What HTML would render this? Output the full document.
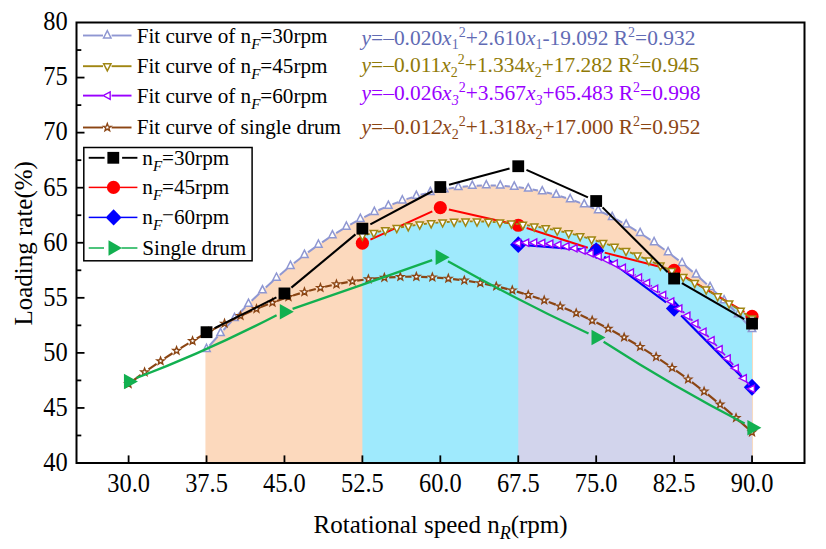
<!DOCTYPE html>
<html><head><meta charset="utf-8"><title>chart</title>
<style>
html,body{margin:0;padding:0;background:#fff;}
body{width:826px;height:549px;overflow:hidden;}
svg{display:block;}
text{font-family:"Liberation Serif",serif;}
.i{font-style:italic;}
</style></head><body>
<svg width="826" height="549" viewBox="0 0 826 549">
<rect width="826" height="549" fill="#fff"/>
<path d="M205.43,463.00 L205.43,349.05 L206.53,349.05 L213.44,341.12 L220.34,333.38 L227.25,325.84 L234.15,318.50 L241.06,311.36 L247.96,304.41 L254.87,297.66 L261.77,291.11 L268.68,284.75 L275.58,278.60 L282.49,272.63 L289.39,266.87 L296.30,261.30 L303.20,255.93 L310.11,250.75 L317.01,245.78 L323.92,241.00 L330.82,236.41 L337.73,232.02 L344.63,227.83 L351.54,223.84 L358.44,220.05 L365.35,216.45 L372.25,213.04 L379.16,209.84 L386.06,206.83 L392.97,204.02 L399.88,201.41 L406.78,198.99 L413.69,196.77 L420.59,194.74 L427.50,192.92 L434.40,191.29 L441.31,189.85 L448.21,188.62 L455.12,187.58 L462.02,186.74 L468.93,186.09 L475.83,185.64 L482.74,185.39 L489.64,185.34 L496.55,185.48 L503.45,185.82 L510.36,186.36 L517.26,187.09 L524.17,188.02 L531.07,189.15 L537.98,190.47 L544.88,191.99 L551.79,193.71 L558.69,195.63 L565.60,197.74 L572.51,200.05 L579.41,202.55 L586.32,205.26 L593.22,208.16 L600.13,211.25 L607.03,214.55 L613.94,218.04 L620.84,221.72 L627.75,225.61 L634.65,229.69 L641.56,233.97 L648.46,238.44 L655.37,243.11 L662.27,247.98 L669.18,253.05 L676.08,258.31 L682.99,263.77 L689.89,269.43 L696.80,275.28 L703.70,281.33 L710.61,287.58 L717.51,294.02 L724.42,300.67 L731.32,307.50 L738.23,314.54 L745.13,321.77 L752.04,329.20 L753.04,329.20 L753.04,463.00 Z" fill="#fcd9bd"/>
<path d="M362.39,463.00 L362.39,235.66 L362.39,235.66 L367.32,234.38 L372.25,233.16 L377.19,232.00 L382.12,230.90 L387.05,229.86 L391.98,228.88 L396.92,227.96 L401.85,227.09 L406.78,226.29 L411.71,225.55 L416.65,224.87 L421.58,224.24 L426.51,223.68 L431.44,223.18 L436.37,222.73 L441.31,222.35 L446.24,222.02 L451.17,221.76 L456.10,221.55 L461.04,221.41 L465.97,221.32 L470.90,221.30 L475.83,221.33 L480.76,221.42 L485.70,221.57 L490.63,221.79 L495.56,222.06 L500.49,222.39 L505.43,222.78 L510.36,223.23 L515.29,223.75 L520.22,224.32 L525.16,224.95 L530.09,225.64 L535.02,226.39 L539.95,227.20 L544.88,228.06 L549.82,228.99 L554.75,229.98 L559.68,231.03 L564.61,232.14 L569.55,233.31 L574.48,234.53 L579.41,235.82 L584.34,237.17 L589.27,238.57 L594.21,240.04 L599.14,241.57 L604.07,243.15 L609.00,244.80 L613.94,246.50 L618.87,248.27 L623.80,250.09 L628.73,251.97 L633.67,253.92 L638.60,255.92 L643.53,257.98 L648.46,260.11 L653.39,262.29 L658.33,264.53 L663.26,266.83 L668.19,269.19 L673.12,271.61 L678.06,274.10 L682.99,276.64 L687.92,279.24 L692.85,281.90 L697.78,284.62 L702.72,287.40 L707.65,290.23 L712.58,293.13 L717.51,296.09 L722.45,299.11 L727.38,302.19 L732.31,305.32 L737.24,308.52 L742.18,311.78 L747.11,315.10 L752.04,318.47 L752.04,318.47 L752.04,463.00 Z" fill="#9feafd"/>
<path d="M518.25,463.00 L518.25,243.11 L518.25,243.11 L521.21,242.90 L524.17,242.75 L527.13,242.65 L530.09,242.61 L533.05,242.62 L536.01,242.68 L538.97,242.79 L541.92,242.95 L544.88,243.17 L547.84,243.44 L550.80,243.76 L553.76,244.13 L556.72,244.56 L559.68,245.04 L562.64,245.57 L565.60,246.15 L568.56,246.79 L571.52,247.48 L574.48,248.22 L577.44,249.02 L580.40,249.86 L583.36,250.76 L586.32,251.71 L589.27,252.72 L592.23,253.77 L595.19,254.88 L598.15,256.04 L601.11,257.26 L604.07,258.52 L607.03,259.84 L609.99,261.21 L612.95,262.64 L615.91,264.12 L618.87,265.64 L621.83,267.23 L624.79,268.86 L627.75,270.55 L630.71,272.28 L633.67,274.08 L636.62,275.92 L639.58,277.82 L642.54,279.76 L645.50,281.77 L648.46,283.82 L651.42,285.93 L654.38,288.08 L657.34,290.29 L660.30,292.56 L663.26,294.87 L666.22,297.24 L669.18,299.66 L672.14,302.14 L675.10,304.66 L678.06,307.24 L681.02,309.87 L683.97,312.56 L686.93,315.29 L689.89,318.08 L692.85,320.92 L695.81,323.82 L698.77,326.76 L701.73,329.76 L704.69,332.81 L707.65,335.91 L710.61,339.07 L713.57,342.28 L716.53,345.54 L719.49,348.85 L722.45,352.22 L725.41,355.64 L728.37,359.11 L731.32,362.63 L734.28,366.21 L737.24,369.83 L740.20,373.52 L743.16,377.25 L746.12,381.03 L749.08,384.87 L752.04,388.76 L752.04,388.76 L752.04,463.00 Z" fill="#d2d4ec"/>
<line x1="209.44" y1="345.75" x2="217.61" y2="336.49" stroke="#8f97d2" stroke-width="2.0"/>
<line x1="223.51" y1="329.96" x2="231.51" y2="321.36" stroke="#8f97d2" stroke-width="2.0"/>
<line x1="237.59" y1="314.99" x2="245.41" y2="307.03" stroke="#8f97d2" stroke-width="2.0"/>
<line x1="251.67" y1="300.84" x2="259.31" y2="293.50" stroke="#8f97d2" stroke-width="2.0"/>
<line x1="265.75" y1="287.50" x2="273.20" y2="280.77" stroke="#8f97d2" stroke-width="2.0"/>
<line x1="279.83" y1="274.98" x2="287.09" y2="268.84" stroke="#8f97d2" stroke-width="2.0"/>
<line x1="293.91" y1="263.28" x2="300.99" y2="257.71" stroke="#8f97d2" stroke-width="2.0"/>
<line x1="308.00" y1="252.39" x2="314.88" y2="247.37" stroke="#8f97d2" stroke-width="2.0"/>
<line x1="322.08" y1="242.33" x2="328.76" y2="237.84" stroke="#8f97d2" stroke-width="2.0"/>
<line x1="336.17" y1="233.08" x2="342.65" y2="229.09" stroke="#8f97d2" stroke-width="2.0"/>
<line x1="350.25" y1="224.65" x2="356.55" y2="221.15" stroke="#8f97d2" stroke-width="2.0"/>
<line x1="364.33" y1="217.05" x2="370.44" y2="214.00" stroke="#8f97d2" stroke-width="2.0"/>
<line x1="378.41" y1="210.26" x2="384.34" y2="207.65" stroke="#8f97d2" stroke-width="2.0"/>
<line x1="392.48" y1="204.30" x2="398.25" y2="202.09" stroke="#8f97d2" stroke-width="2.0"/>
<line x1="406.54" y1="199.15" x2="412.16" y2="197.33" stroke="#8f97d2" stroke-width="2.0"/>
<line x1="420.59" y1="194.83" x2="426.08" y2="193.36" stroke="#8f97d2" stroke-width="2.0"/>
<line x1="434.64" y1="191.32" x2="440.01" y2="190.19" stroke="#8f97d2" stroke-width="2.0"/>
<line x1="448.67" y1="188.63" x2="453.95" y2="187.83" stroke="#8f97d2" stroke-width="2.0"/>
<line x1="462.68" y1="186.75" x2="467.91" y2="186.26" stroke="#8f97d2" stroke-width="2.0"/>
<line x1="476.69" y1="185.69" x2="481.88" y2="185.50" stroke="#8f97d2" stroke-width="2.0"/>
<line x1="490.68" y1="185.43" x2="495.87" y2="185.55" stroke="#8f97d2" stroke-width="2.0"/>
<line x1="504.65" y1="185.99" x2="509.87" y2="186.40" stroke="#8f97d2" stroke-width="2.0"/>
<line x1="518.61" y1="187.34" x2="523.88" y2="188.07" stroke="#8f97d2" stroke-width="2.0"/>
<line x1="532.56" y1="189.50" x2="537.91" y2="190.54" stroke="#8f97d2" stroke-width="2.0"/>
<line x1="546.49" y1="192.46" x2="551.95" y2="193.84" stroke="#8f97d2" stroke-width="2.0"/>
<line x1="560.42" y1="196.22" x2="566.00" y2="197.95" stroke="#8f97d2" stroke-width="2.0"/>
<line x1="574.33" y1="200.78" x2="580.06" y2="202.88" stroke="#8f97d2" stroke-width="2.0"/>
<line x1="588.24" y1="206.13" x2="594.13" y2="208.64" stroke="#8f97d2" stroke-width="2.0"/>
<line x1="602.14" y1="212.27" x2="608.20" y2="215.21" stroke="#8f97d2" stroke-width="2.0"/>
<line x1="616.04" y1="219.22" x2="622.28" y2="222.60" stroke="#8f97d2" stroke-width="2.0"/>
<line x1="629.93" y1="226.95" x2="636.37" y2="230.81" stroke="#8f97d2" stroke-width="2.0"/>
<line x1="643.82" y1="235.49" x2="650.45" y2="239.85" stroke="#8f97d2" stroke-width="2.0"/>
<line x1="657.71" y1="244.82" x2="664.54" y2="249.70" stroke="#8f97d2" stroke-width="2.0"/>
<line x1="671.60" y1="254.95" x2="678.62" y2="260.37" stroke="#8f97d2" stroke-width="2.0"/>
<line x1="685.49" y1="265.87" x2="692.70" y2="271.86" stroke="#8f97d2" stroke-width="2.0"/>
<line x1="699.38" y1="277.59" x2="706.79" y2="284.17" stroke="#8f97d2" stroke-width="2.0"/>
<line x1="713.27" y1="290.12" x2="720.87" y2="297.30" stroke="#8f97d2" stroke-width="2.0"/>
<line x1="727.17" y1="303.44" x2="734.95" y2="311.24" stroke="#8f97d2" stroke-width="2.0"/>
<line x1="741.07" y1="317.56" x2="749.02" y2="326.00" stroke="#8f97d2" stroke-width="2.0"/>
<path d="M206.53,344.26 L210.23,351.44 L202.83,351.44 Z" fill="#fff" stroke="#8f97d2" stroke-width="1.5"/>
<path d="M220.52,328.40 L224.22,335.58 L216.82,335.58 Z" fill="#fff" stroke="#8f97d2" stroke-width="1.5"/>
<path d="M234.50,313.35 L238.20,320.53 L230.80,320.53 Z" fill="#fff" stroke="#8f97d2" stroke-width="1.5"/>
<path d="M248.49,299.10 L252.19,306.28 L244.79,306.28 Z" fill="#fff" stroke="#8f97d2" stroke-width="1.5"/>
<path d="M262.48,285.66 L266.18,292.84 L258.78,292.84 Z" fill="#fff" stroke="#8f97d2" stroke-width="1.5"/>
<path d="M276.47,273.03 L280.17,280.21 L272.77,280.21 Z" fill="#fff" stroke="#8f97d2" stroke-width="1.5"/>
<path d="M290.45,261.21 L294.15,268.39 L286.75,268.39 Z" fill="#fff" stroke="#8f97d2" stroke-width="1.5"/>
<path d="M304.44,250.20 L308.14,257.38 L300.74,257.38 Z" fill="#fff" stroke="#8f97d2" stroke-width="1.5"/>
<path d="M318.43,239.99 L322.13,247.17 L314.73,247.17 Z" fill="#fff" stroke="#8f97d2" stroke-width="1.5"/>
<path d="M332.42,230.60 L336.12,237.77 L328.72,237.77 Z" fill="#fff" stroke="#8f97d2" stroke-width="1.5"/>
<path d="M346.40,222.01 L350.10,229.19 L342.70,229.19 Z" fill="#fff" stroke="#8f97d2" stroke-width="1.5"/>
<path d="M360.39,214.23 L364.09,221.40 L356.69,221.40 Z" fill="#fff" stroke="#8f97d2" stroke-width="1.5"/>
<path d="M374.38,207.25 L378.08,214.43 L370.68,214.43 Z" fill="#fff" stroke="#8f97d2" stroke-width="1.5"/>
<path d="M388.37,201.09 L392.07,208.27 L384.67,208.27 Z" fill="#fff" stroke="#8f97d2" stroke-width="1.5"/>
<path d="M402.35,195.73 L406.05,202.91 L398.65,202.91 Z" fill="#fff" stroke="#8f97d2" stroke-width="1.5"/>
<path d="M416.34,191.18 L420.04,198.36 L412.64,198.36 Z" fill="#fff" stroke="#8f97d2" stroke-width="1.5"/>
<path d="M430.33,187.44 L434.03,194.62 L426.63,194.62 Z" fill="#fff" stroke="#8f97d2" stroke-width="1.5"/>
<path d="M444.32,184.51 L448.02,191.68 L440.62,191.68 Z" fill="#fff" stroke="#8f97d2" stroke-width="1.5"/>
<path d="M458.30,182.38 L462.00,189.56 L454.60,189.56 Z" fill="#fff" stroke="#8f97d2" stroke-width="1.5"/>
<path d="M472.29,181.06 L475.99,188.24 L468.59,188.24 Z" fill="#fff" stroke="#8f97d2" stroke-width="1.5"/>
<path d="M486.28,180.56 L489.98,187.73 L482.58,187.73 Z" fill="#fff" stroke="#8f97d2" stroke-width="1.5"/>
<path d="M500.27,180.85 L503.97,188.03 L496.57,188.03 Z" fill="#fff" stroke="#8f97d2" stroke-width="1.5"/>
<path d="M514.25,181.96 L517.95,189.14 L510.55,189.14 Z" fill="#fff" stroke="#8f97d2" stroke-width="1.5"/>
<path d="M528.24,183.88 L531.94,191.05 L524.54,191.05 Z" fill="#fff" stroke="#8f97d2" stroke-width="1.5"/>
<path d="M542.23,186.60 L545.93,193.78 L538.53,193.78 Z" fill="#fff" stroke="#8f97d2" stroke-width="1.5"/>
<path d="M556.22,190.13 L559.92,197.31 L552.52,197.31 Z" fill="#fff" stroke="#8f97d2" stroke-width="1.5"/>
<path d="M570.20,194.47 L573.90,201.65 L566.50,201.65 Z" fill="#fff" stroke="#8f97d2" stroke-width="1.5"/>
<path d="M584.19,199.62 L587.89,206.80 L580.49,206.80 Z" fill="#fff" stroke="#8f97d2" stroke-width="1.5"/>
<path d="M598.18,205.57 L601.88,212.75 L594.48,212.75 Z" fill="#fff" stroke="#8f97d2" stroke-width="1.5"/>
<path d="M612.17,212.34 L615.87,219.51 L608.47,219.51 Z" fill="#fff" stroke="#8f97d2" stroke-width="1.5"/>
<path d="M626.15,219.91 L629.85,227.09 L622.45,227.09 Z" fill="#fff" stroke="#8f97d2" stroke-width="1.5"/>
<path d="M640.14,228.29 L643.84,235.47 L636.44,235.47 Z" fill="#fff" stroke="#8f97d2" stroke-width="1.5"/>
<path d="M654.13,237.48 L657.83,244.65 L650.43,244.65 Z" fill="#fff" stroke="#8f97d2" stroke-width="1.5"/>
<path d="M668.12,247.47 L671.82,254.65 L664.42,254.65 Z" fill="#fff" stroke="#8f97d2" stroke-width="1.5"/>
<path d="M682.10,258.28 L685.80,265.45 L678.40,265.45 Z" fill="#fff" stroke="#8f97d2" stroke-width="1.5"/>
<path d="M696.09,269.89 L699.79,277.06 L692.39,277.06 Z" fill="#fff" stroke="#8f97d2" stroke-width="1.5"/>
<path d="M710.08,282.31 L713.78,289.48 L706.38,289.48 Z" fill="#fff" stroke="#8f97d2" stroke-width="1.5"/>
<path d="M724.07,295.53 L727.77,302.71 L720.37,302.71 Z" fill="#fff" stroke="#8f97d2" stroke-width="1.5"/>
<path d="M738.05,309.57 L741.75,316.75 L734.35,316.75 Z" fill="#fff" stroke="#8f97d2" stroke-width="1.5"/>
<path d="M752.04,324.41 L755.74,331.59 L748.34,331.59 Z" fill="#fff" stroke="#8f97d2" stroke-width="1.5"/>
<line x1="132.46" y1="381.08" x2="140.72" y2="375.00" stroke="#8b4513" stroke-width="2.2"/>
<line x1="148.53" y1="369.41" x2="156.63" y2="363.79" stroke="#8b4513" stroke-width="2.2"/>
<line x1="164.59" y1="358.43" x2="172.53" y2="353.26" stroke="#8b4513" stroke-width="2.2"/>
<line x1="180.66" y1="348.14" x2="188.44" y2="343.40" stroke="#8b4513" stroke-width="2.2"/>
<line x1="196.72" y1="338.55" x2="204.35" y2="334.23" stroke="#8b4513" stroke-width="2.2"/>
<line x1="212.78" y1="329.64" x2="220.26" y2="325.73" stroke="#8b4513" stroke-width="2.2"/>
<line x1="228.84" y1="321.43" x2="236.17" y2="317.91" stroke="#8b4513" stroke-width="2.2"/>
<line x1="244.90" y1="313.91" x2="252.09" y2="310.77" stroke="#8b4513" stroke-width="2.2"/>
<line x1="260.95" y1="307.09" x2="268.01" y2="304.31" stroke="#8b4513" stroke-width="2.2"/>
<line x1="277.00" y1="300.96" x2="283.93" y2="298.52" stroke="#8b4513" stroke-width="2.2"/>
<line x1="293.04" y1="295.52" x2="299.86" y2="293.42" stroke="#8b4513" stroke-width="2.2"/>
<line x1="309.08" y1="290.77" x2="315.79" y2="288.99" stroke="#8b4513" stroke-width="2.2"/>
<line x1="325.11" y1="286.71" x2="331.73" y2="285.24" stroke="#8b4513" stroke-width="2.2"/>
<line x1="341.14" y1="283.35" x2="347.67" y2="282.17" stroke="#8b4513" stroke-width="2.2"/>
<line x1="357.15" y1="280.67" x2="363.63" y2="279.78" stroke="#8b4513" stroke-width="2.2"/>
<line x1="373.16" y1="278.68" x2="379.59" y2="278.08" stroke="#8b4513" stroke-width="2.2"/>
<line x1="389.16" y1="277.38" x2="395.56" y2="277.05" stroke="#8b4513" stroke-width="2.2"/>
<line x1="405.16" y1="276.77" x2="411.54" y2="276.72" stroke="#8b4513" stroke-width="2.2"/>
<line x1="421.14" y1="276.84" x2="427.53" y2="277.06" stroke="#8b4513" stroke-width="2.2"/>
<line x1="437.11" y1="277.60" x2="443.53" y2="278.09" stroke="#8b4513" stroke-width="2.2"/>
<line x1="453.08" y1="279.04" x2="459.53" y2="279.81" stroke="#8b4513" stroke-width="2.2"/>
<line x1="469.04" y1="281.16" x2="475.55" y2="282.22" stroke="#8b4513" stroke-width="2.2"/>
<line x1="484.99" y1="283.96" x2="491.57" y2="285.32" stroke="#8b4513" stroke-width="2.2"/>
<line x1="500.93" y1="287.44" x2="507.60" y2="289.10" stroke="#8b4513" stroke-width="2.2"/>
<line x1="516.86" y1="291.61" x2="523.63" y2="293.58" stroke="#8b4513" stroke-width="2.2"/>
<line x1="532.79" y1="296.45" x2="539.67" y2="298.75" stroke="#8b4513" stroke-width="2.2"/>
<line x1="548.72" y1="301.97" x2="555.72" y2="304.61" stroke="#8b4513" stroke-width="2.2"/>
<line x1="564.64" y1="308.17" x2="571.77" y2="311.17" stroke="#8b4513" stroke-width="2.2"/>
<line x1="580.55" y1="315.04" x2="587.83" y2="318.41" stroke="#8b4513" stroke-width="2.2"/>
<line x1="596.47" y1="322.60" x2="603.89" y2="326.35" stroke="#8b4513" stroke-width="2.2"/>
<line x1="612.38" y1="330.83" x2="619.95" y2="334.99" stroke="#8b4513" stroke-width="2.2"/>
<line x1="628.29" y1="339.74" x2="636.01" y2="344.31" stroke="#8b4513" stroke-width="2.2"/>
<line x1="644.19" y1="349.33" x2="652.07" y2="354.33" stroke="#8b4513" stroke-width="2.2"/>
<line x1="660.10" y1="359.59" x2="668.14" y2="365.04" stroke="#8b4513" stroke-width="2.2"/>
<line x1="676.01" y1="370.54" x2="684.20" y2="376.44" stroke="#8b4513" stroke-width="2.2"/>
<line x1="691.91" y1="382.16" x2="700.27" y2="388.54" stroke="#8b4513" stroke-width="2.2"/>
<line x1="707.82" y1="394.46" x2="716.33" y2="401.32" stroke="#8b4513" stroke-width="2.2"/>
<line x1="723.73" y1="407.44" x2="732.40" y2="414.80" stroke="#8b4513" stroke-width="2.2"/>
<line x1="739.64" y1="421.10" x2="748.46" y2="428.97" stroke="#8b4513" stroke-width="2.2"/>
<polygon points="128.60,380.03 129.56,382.61 132.31,382.73 130.16,384.44 130.89,387.09 128.60,385.57 126.31,387.09 127.04,384.44 124.89,382.73 127.64,382.61" fill="#fff" stroke="#8b4513" stroke-width="1.4"/>
<polygon points="144.59,368.25 145.55,370.82 148.29,370.94 146.14,372.65 146.88,375.30 144.59,373.79 142.29,375.30 143.03,372.65 140.88,370.94 143.62,370.82" fill="#fff" stroke="#8b4513" stroke-width="1.4"/>
<polygon points="160.57,357.15 161.53,359.72 164.28,359.84 162.13,361.56 162.86,364.20 160.57,362.69 158.28,364.20 159.01,361.56 156.86,359.84 159.61,359.72" fill="#fff" stroke="#8b4513" stroke-width="1.4"/>
<polygon points="176.56,346.74 177.52,349.31 180.27,349.43 178.11,351.14 178.85,353.79 176.56,352.27 174.26,353.79 175.00,351.14 172.85,349.43 175.59,349.31" fill="#fff" stroke="#8b4513" stroke-width="1.4"/>
<polygon points="192.54,337.01 193.51,339.58 196.25,339.70 194.10,341.41 194.83,344.06 192.54,342.55 190.25,344.06 190.98,341.41 188.83,339.70 191.58,339.58" fill="#fff" stroke="#8b4513" stroke-width="1.4"/>
<polygon points="208.53,327.97 209.49,330.54 212.24,330.66 210.09,332.37 210.82,335.02 208.53,333.50 206.24,335.02 206.97,332.37 204.82,330.66 207.57,330.54" fill="#fff" stroke="#8b4513" stroke-width="1.4"/>
<polygon points="224.51,319.61 225.48,322.18 228.22,322.30 226.07,324.02 226.81,326.66 224.51,325.15 222.22,326.66 222.96,324.02 220.80,322.30 223.55,322.18" fill="#fff" stroke="#8b4513" stroke-width="1.4"/>
<polygon points="240.50,311.94 241.46,314.51 244.21,314.63 242.06,316.34 242.79,318.99 240.50,317.48 238.21,318.99 238.94,316.34 236.79,314.63 239.54,314.51" fill="#fff" stroke="#8b4513" stroke-width="1.4"/>
<polygon points="256.49,304.95 257.45,307.53 260.19,307.65 258.04,309.36 258.78,312.01 256.49,310.49 254.19,312.01 254.93,309.36 252.78,307.65 255.52,307.53" fill="#fff" stroke="#8b4513" stroke-width="1.4"/>
<polygon points="272.47,298.65 273.43,301.22 276.18,301.34 274.03,303.06 274.76,305.70 272.47,304.19 270.18,305.70 270.91,303.06 268.76,301.34 271.51,301.22" fill="#fff" stroke="#8b4513" stroke-width="1.4"/>
<polygon points="288.46,293.03 289.42,295.61 292.17,295.73 290.01,297.44 290.75,300.09 288.46,298.57 286.16,300.09 286.90,297.44 284.75,295.73 287.49,295.61" fill="#fff" stroke="#8b4513" stroke-width="1.4"/>
<polygon points="304.44,288.10 305.40,290.68 308.15,290.80 306.00,292.51 306.73,295.16 304.44,293.64 302.15,295.16 302.88,292.51 300.73,290.80 303.48,290.68" fill="#fff" stroke="#8b4513" stroke-width="1.4"/>
<polygon points="320.43,283.86 321.39,286.43 324.14,286.55 321.99,288.26 322.72,290.91 320.43,289.40 318.14,290.91 318.87,288.26 316.72,286.55 319.46,286.43" fill="#fff" stroke="#8b4513" stroke-width="1.4"/>
<polygon points="336.41,280.30 337.38,282.87 340.12,282.99 337.97,284.70 338.71,287.35 336.41,285.83 334.12,287.35 334.86,284.70 332.70,282.99 335.45,282.87" fill="#fff" stroke="#8b4513" stroke-width="1.4"/>
<polygon points="352.40,277.42 353.36,280.00 356.11,280.12 353.96,281.83 354.69,284.48 352.40,282.96 350.11,284.48 350.84,281.83 348.69,280.12 351.44,280.00" fill="#fff" stroke="#8b4513" stroke-width="1.4"/>
<polygon points="368.38,275.23 369.35,277.81 372.09,277.93 369.94,279.64 370.68,282.29 368.38,280.77 366.09,282.29 366.83,279.64 364.68,277.93 367.42,277.81" fill="#fff" stroke="#8b4513" stroke-width="1.4"/>
<polygon points="384.37,273.73 385.33,276.30 388.08,276.42 385.93,278.13 386.66,280.78 384.37,279.27 382.08,280.78 382.81,278.13 380.66,276.42 383.41,276.30" fill="#fff" stroke="#8b4513" stroke-width="1.4"/>
<polygon points="400.36,272.91 401.32,275.48 404.07,275.60 401.91,277.32 402.65,279.96 400.36,278.45 398.06,279.96 398.80,277.32 396.65,275.60 399.39,275.48" fill="#fff" stroke="#8b4513" stroke-width="1.4"/>
<polygon points="416.34,272.78 417.30,275.35 420.05,275.47 417.90,277.18 418.63,279.83 416.34,278.31 414.05,279.83 414.78,277.18 412.63,275.47 415.38,275.35" fill="#fff" stroke="#8b4513" stroke-width="1.4"/>
<polygon points="432.33,273.33 433.29,275.90 436.04,276.02 433.89,277.73 434.62,280.38 432.33,278.86 430.03,280.38 430.77,277.73 428.62,276.02 431.36,275.90" fill="#fff" stroke="#8b4513" stroke-width="1.4"/>
<polygon points="448.31,274.56 449.28,277.14 452.02,277.26 449.87,278.97 450.61,281.62 448.31,280.10 446.02,281.62 446.75,278.97 444.60,277.26 447.35,277.14" fill="#fff" stroke="#8b4513" stroke-width="1.4"/>
<polygon points="464.30,276.49 465.26,279.06 468.01,279.18 465.86,280.89 466.59,283.54 464.30,282.02 462.01,283.54 462.74,280.89 460.59,279.18 463.34,279.06" fill="#fff" stroke="#8b4513" stroke-width="1.4"/>
<polygon points="480.28,279.09 481.25,281.67 483.99,281.79 481.84,283.50 482.58,286.15 480.28,284.63 477.99,286.15 478.73,283.50 476.57,281.79 479.32,281.67" fill="#fff" stroke="#8b4513" stroke-width="1.4"/>
<polygon points="496.27,282.39 497.23,284.96 499.98,285.08 497.83,286.79 498.56,289.44 496.27,287.92 493.98,289.44 494.71,286.79 492.56,285.08 495.31,284.96" fill="#fff" stroke="#8b4513" stroke-width="1.4"/>
<polygon points="512.26,286.36 513.22,288.94 515.96,289.06 513.81,290.77 514.55,293.42 512.26,291.90 509.96,293.42 510.70,290.77 508.55,289.06 511.29,288.94" fill="#fff" stroke="#8b4513" stroke-width="1.4"/>
<polygon points="528.24,291.03 529.20,293.60 531.95,293.72 529.80,295.43 530.53,298.08 528.24,296.56 525.95,298.08 526.68,295.43 524.53,293.72 527.28,293.60" fill="#fff" stroke="#8b4513" stroke-width="1.4"/>
<polygon points="544.23,296.37 545.19,298.95 547.94,299.07 545.78,300.78 546.52,303.43 544.23,301.91 541.93,303.43 542.67,300.78 540.52,299.07 543.26,298.95" fill="#fff" stroke="#8b4513" stroke-width="1.4"/>
<polygon points="560.21,302.41 561.18,304.98 563.92,305.10 561.77,306.81 562.50,309.46 560.21,307.95 557.92,309.46 558.65,306.81 556.50,305.10 559.25,304.98" fill="#fff" stroke="#8b4513" stroke-width="1.4"/>
<polygon points="576.20,309.13 577.16,311.70 579.91,311.82 577.76,313.53 578.49,316.18 576.20,314.67 573.91,316.18 574.64,313.53 572.49,311.82 575.24,311.70" fill="#fff" stroke="#8b4513" stroke-width="1.4"/>
<polygon points="592.18,316.53 593.15,319.11 595.89,319.23 593.74,320.94 594.48,323.59 592.18,322.07 589.89,323.59 590.63,320.94 588.47,319.23 591.22,319.11" fill="#fff" stroke="#8b4513" stroke-width="1.4"/>
<polygon points="608.17,324.62 609.13,327.20 611.88,327.32 609.73,329.03 610.46,331.68 608.17,330.16 605.88,331.68 606.61,329.03 604.46,327.32 607.21,327.20" fill="#fff" stroke="#8b4513" stroke-width="1.4"/>
<polygon points="624.15,333.40 625.12,335.97 627.86,336.09 625.71,337.80 626.45,340.45 624.15,338.93 621.86,340.45 622.60,337.80 620.45,336.09 623.19,335.97" fill="#fff" stroke="#8b4513" stroke-width="1.4"/>
<polygon points="640.14,342.86 641.10,345.43 643.85,345.55 641.70,347.26 642.43,349.91 640.14,348.39 637.85,349.91 638.58,347.26 636.43,345.55 639.18,345.43" fill="#fff" stroke="#8b4513" stroke-width="1.4"/>
<polygon points="656.13,353.00 657.09,355.58 659.84,355.70 657.68,357.41 658.42,360.06 656.13,358.54 653.83,360.06 654.57,357.41 652.42,355.70 655.16,355.58" fill="#fff" stroke="#8b4513" stroke-width="1.4"/>
<polygon points="672.11,363.83 673.07,366.41 675.82,366.53 673.67,368.24 674.40,370.89 672.11,369.37 669.82,370.89 670.55,368.24 668.40,366.53 671.15,366.41" fill="#fff" stroke="#8b4513" stroke-width="1.4"/>
<polygon points="688.10,375.35 689.06,377.92 691.81,378.04 689.66,379.75 690.39,382.40 688.10,380.89 685.81,382.40 686.54,379.75 684.39,378.04 687.13,377.92" fill="#fff" stroke="#8b4513" stroke-width="1.4"/>
<polygon points="704.08,387.55 705.05,390.12 707.79,390.24 705.64,391.95 706.38,394.60 704.08,393.09 701.79,394.60 702.53,391.95 700.37,390.24 703.12,390.12" fill="#fff" stroke="#8b4513" stroke-width="1.4"/>
<polygon points="720.07,400.43 721.03,403.01 723.78,403.13 721.63,404.84 722.36,407.49 720.07,405.97 717.78,407.49 718.51,404.84 716.36,403.13 719.11,403.01" fill="#fff" stroke="#8b4513" stroke-width="1.4"/>
<polygon points="736.05,414.01 737.02,416.58 739.76,416.70 737.61,418.41 738.35,421.06 736.05,419.54 733.76,421.06 734.50,418.41 732.35,416.70 735.09,416.58" fill="#fff" stroke="#8b4513" stroke-width="1.4"/>
<polygon points="752.04,428.26 753.00,430.84 755.75,430.96 753.60,432.67 754.33,435.32 752.04,433.80 749.75,435.32 750.48,432.67 748.33,430.96 751.08,430.84" fill="#fff" stroke="#8b4513" stroke-width="1.4"/>
<line x1="370.40" y1="239.55" x2="432.31" y2="211.29" stroke="#ff0000" stroke-width="2.0"/>
<line x1="448.90" y1="209.57" x2="509.67" y2="223.31" stroke="#ff0000" stroke-width="2.0"/>
<line x1="526.62" y1="227.96" x2="587.81" y2="247.76" stroke="#ff0000" stroke-width="2.0"/>
<line x1="604.71" y1="252.65" x2="665.58" y2="268.22" stroke="#ff0000" stroke-width="2.0"/>
<line x1="681.69" y1="274.88" x2="744.46" y2="311.95" stroke="#ff0000" stroke-width="2.0"/>
<circle cx="362.39" cy="243.20" r="6.6" fill="#ff0000"/>
<circle cx="440.32" cy="207.63" r="6.6" fill="#ff0000"/>
<circle cx="518.25" cy="225.25" r="6.6" fill="#ff0000"/>
<circle cx="596.18" cy="250.47" r="6.6" fill="#ff0000"/>
<circle cx="674.11" cy="270.40" r="6.6" fill="#ff0000"/>
<circle cx="752.04" cy="316.43" r="6.6" fill="#ff0000"/>
<line x1="366.56" y1="234.61" x2="369.68" y2="233.83" stroke="#a08612" stroke-width="1.9"/>
<line x1="378.05" y1="231.84" x2="381.11" y2="231.16" stroke="#a08612" stroke-width="1.9"/>
<line x1="389.53" y1="229.40" x2="392.55" y2="228.81" stroke="#a08612" stroke-width="1.9"/>
<line x1="401.01" y1="227.27" x2="403.99" y2="226.78" stroke="#a08612" stroke-width="1.9"/>
<line x1="412.49" y1="225.48" x2="415.43" y2="225.07" stroke="#a08612" stroke-width="1.9"/>
<line x1="423.97" y1="224.00" x2="426.88" y2="223.68" stroke="#a08612" stroke-width="1.9"/>
<line x1="435.44" y1="222.85" x2="438.33" y2="222.61" stroke="#a08612" stroke-width="1.9"/>
<line x1="446.91" y1="222.02" x2="449.78" y2="221.86" stroke="#a08612" stroke-width="1.9"/>
<line x1="458.37" y1="221.52" x2="461.23" y2="221.44" stroke="#a08612" stroke-width="1.9"/>
<line x1="469.83" y1="221.33" x2="472.69" y2="221.34" stroke="#a08612" stroke-width="1.9"/>
<line x1="481.29" y1="221.47" x2="484.16" y2="221.56" stroke="#a08612" stroke-width="1.9"/>
<line x1="492.75" y1="221.93" x2="495.62" y2="222.10" stroke="#a08612" stroke-width="1.9"/>
<line x1="504.20" y1="222.72" x2="507.09" y2="222.97" stroke="#a08612" stroke-width="1.9"/>
<line x1="515.65" y1="223.82" x2="518.56" y2="224.15" stroke="#a08612" stroke-width="1.9"/>
<line x1="527.09" y1="225.25" x2="530.04" y2="225.67" stroke="#a08612" stroke-width="1.9"/>
<line x1="538.53" y1="226.99" x2="541.52" y2="227.50" stroke="#a08612" stroke-width="1.9"/>
<line x1="549.97" y1="229.06" x2="553.00" y2="229.66" stroke="#a08612" stroke-width="1.9"/>
<line x1="561.41" y1="231.45" x2="564.48" y2="232.15" stroke="#a08612" stroke-width="1.9"/>
<line x1="572.84" y1="234.16" x2="575.97" y2="234.95" stroke="#a08612" stroke-width="1.9"/>
<line x1="584.27" y1="237.18" x2="587.46" y2="238.09" stroke="#a08612" stroke-width="1.9"/>
<line x1="595.70" y1="240.53" x2="598.95" y2="241.54" stroke="#a08612" stroke-width="1.9"/>
<line x1="607.13" y1="244.20" x2="610.44" y2="245.32" stroke="#a08612" stroke-width="1.9"/>
<line x1="618.55" y1="248.19" x2="621.94" y2="249.43" stroke="#a08612" stroke-width="1.9"/>
<line x1="629.98" y1="252.49" x2="633.44" y2="253.86" stroke="#a08612" stroke-width="1.9"/>
<line x1="641.40" y1="257.12" x2="644.94" y2="258.62" stroke="#a08612" stroke-width="1.9"/>
<line x1="652.82" y1="262.07" x2="656.44" y2="263.70" stroke="#a08612" stroke-width="1.9"/>
<line x1="664.23" y1="267.33" x2="667.94" y2="269.11" stroke="#a08612" stroke-width="1.9"/>
<line x1="675.65" y1="272.91" x2="679.44" y2="274.84" stroke="#a08612" stroke-width="1.9"/>
<line x1="687.07" y1="278.82" x2="690.95" y2="280.90" stroke="#a08612" stroke-width="1.9"/>
<line x1="698.48" y1="285.04" x2="702.45" y2="287.28" stroke="#a08612" stroke-width="1.9"/>
<line x1="709.90" y1="291.58" x2="713.96" y2="293.99" stroke="#a08612" stroke-width="1.9"/>
<line x1="721.31" y1="298.45" x2="725.47" y2="301.02" stroke="#a08612" stroke-width="1.9"/>
<line x1="732.73" y1="305.63" x2="736.97" y2="308.38" stroke="#a08612" stroke-width="1.9"/>
<line x1="744.14" y1="313.13" x2="748.48" y2="316.06" stroke="#a08612" stroke-width="1.9"/>
<path d="M362.39,240.38 L366.04,233.30 L358.74,233.30 Z" fill="#fff" stroke="#a08612" stroke-width="1.5"/>
<path d="M373.85,237.50 L377.50,230.42 L370.20,230.42 Z" fill="#fff" stroke="#a08612" stroke-width="1.5"/>
<path d="M385.31,234.94 L388.96,227.86 L381.66,227.86 Z" fill="#fff" stroke="#a08612" stroke-width="1.5"/>
<path d="M396.77,232.70 L400.42,225.62 L393.12,225.62 Z" fill="#fff" stroke="#a08612" stroke-width="1.5"/>
<path d="M408.23,230.79 L411.88,223.71 L404.58,223.71 Z" fill="#fff" stroke="#a08612" stroke-width="1.5"/>
<path d="M419.69,229.20 L423.34,222.11 L416.04,222.11 Z" fill="#fff" stroke="#a08612" stroke-width="1.5"/>
<path d="M431.15,227.93 L434.80,220.84 L427.50,220.84 Z" fill="#fff" stroke="#a08612" stroke-width="1.5"/>
<path d="M442.61,226.98 L446.26,219.90 L438.96,219.90 Z" fill="#fff" stroke="#a08612" stroke-width="1.5"/>
<path d="M454.07,226.35 L457.72,219.27 L450.42,219.27 Z" fill="#fff" stroke="#a08612" stroke-width="1.5"/>
<path d="M465.53,226.05 L469.18,218.97 L461.88,218.97 Z" fill="#fff" stroke="#a08612" stroke-width="1.5"/>
<path d="M476.99,226.07 L480.64,218.98 L473.34,218.98 Z" fill="#fff" stroke="#a08612" stroke-width="1.5"/>
<path d="M488.45,226.41 L492.10,219.33 L484.80,219.33 Z" fill="#fff" stroke="#a08612" stroke-width="1.5"/>
<path d="M499.91,227.07 L503.56,219.99 L496.26,219.99 Z" fill="#fff" stroke="#a08612" stroke-width="1.5"/>
<path d="M511.37,228.06 L515.02,220.97 L507.72,220.97 Z" fill="#fff" stroke="#a08612" stroke-width="1.5"/>
<path d="M522.83,229.36 L526.48,222.28 L519.18,222.28 Z" fill="#fff" stroke="#a08612" stroke-width="1.5"/>
<path d="M534.29,230.99 L537.94,223.91 L530.64,223.91 Z" fill="#fff" stroke="#a08612" stroke-width="1.5"/>
<path d="M545.75,232.95 L549.40,225.86 L542.10,225.86 Z" fill="#fff" stroke="#a08612" stroke-width="1.5"/>
<path d="M557.22,235.22 L560.87,228.14 L553.57,228.14 Z" fill="#fff" stroke="#a08612" stroke-width="1.5"/>
<path d="M568.68,237.82 L572.33,230.74 L565.03,230.74 Z" fill="#fff" stroke="#a08612" stroke-width="1.5"/>
<path d="M580.14,240.74 L583.79,233.65 L576.49,233.65 Z" fill="#fff" stroke="#a08612" stroke-width="1.5"/>
<path d="M591.60,243.98 L595.25,236.90 L587.95,236.90 Z" fill="#fff" stroke="#a08612" stroke-width="1.5"/>
<path d="M603.06,247.54 L606.71,240.46 L599.41,240.46 Z" fill="#fff" stroke="#a08612" stroke-width="1.5"/>
<path d="M614.52,251.43 L618.17,244.34 L610.87,244.34 Z" fill="#fff" stroke="#a08612" stroke-width="1.5"/>
<path d="M625.98,255.63 L629.63,248.55 L622.33,248.55 Z" fill="#fff" stroke="#a08612" stroke-width="1.5"/>
<path d="M637.44,260.16 L641.09,253.08 L633.79,253.08 Z" fill="#fff" stroke="#a08612" stroke-width="1.5"/>
<path d="M648.90,265.02 L652.55,257.94 L645.25,257.94 Z" fill="#fff" stroke="#a08612" stroke-width="1.5"/>
<path d="M660.36,270.19 L664.01,263.11 L656.71,263.11 Z" fill="#fff" stroke="#a08612" stroke-width="1.5"/>
<path d="M671.82,275.69 L675.47,268.61 L668.17,268.61 Z" fill="#fff" stroke="#a08612" stroke-width="1.5"/>
<path d="M683.28,281.51 L686.93,274.43 L679.63,274.43 Z" fill="#fff" stroke="#a08612" stroke-width="1.5"/>
<path d="M694.74,287.65 L698.39,280.57 L691.09,280.57 Z" fill="#fff" stroke="#a08612" stroke-width="1.5"/>
<path d="M706.20,294.11 L709.85,287.03 L702.55,287.03 Z" fill="#fff" stroke="#a08612" stroke-width="1.5"/>
<path d="M717.66,300.90 L721.31,293.82 L714.01,293.82 Z" fill="#fff" stroke="#a08612" stroke-width="1.5"/>
<path d="M729.12,308.01 L732.77,300.93 L725.47,300.93 Z" fill="#fff" stroke="#a08612" stroke-width="1.5"/>
<path d="M740.58,315.44 L744.23,308.36 L736.93,308.36 Z" fill="#fff" stroke="#a08612" stroke-width="1.5"/>
<path d="M752.04,323.19 L755.69,316.11 L748.39,316.11 Z" fill="#fff" stroke="#a08612" stroke-width="1.5"/>
<line x1="528.22" y1="245.41" x2="586.21" y2="249.91" stroke="#0000ff" stroke-width="2.2"/>
<line x1="604.22" y1="256.64" x2="666.07" y2="302.44" stroke="#0000ff" stroke-width="2.2"/>
<line x1="681.14" y1="315.50" x2="745.01" y2="380.13" stroke="#0000ff" stroke-width="2.2"/>
<path d="M518.25,236.23 L526.45,244.63 L518.25,253.03 L510.05,244.63 Z" fill="#0000ff"/>
<path d="M596.18,242.29 L604.38,250.69 L596.18,259.09 L587.98,250.69 Z" fill="#0000ff"/>
<path d="M674.11,299.99 L682.31,308.39 L674.11,316.79 L665.91,308.39 Z" fill="#0000ff"/>
<path d="M752.04,378.84 L760.24,387.24 L752.04,395.64 L743.84,387.24 Z" fill="#0000ff"/>
<line x1="594.82" y1="254.79" x2="594.85" y2="254.80" stroke="#9900ff" stroke-width="1.7"/>
<line x1="602.82" y1="258.03" x2="602.98" y2="258.10" stroke="#9900ff" stroke-width="1.7"/>
<line x1="610.81" y1="261.65" x2="611.11" y2="261.80" stroke="#9900ff" stroke-width="1.7"/>
<line x1="618.80" y1="265.65" x2="619.25" y2="265.89" stroke="#9900ff" stroke-width="1.7"/>
<line x1="626.78" y1="270.04" x2="627.39" y2="270.39" stroke="#9900ff" stroke-width="1.7"/>
<line x1="634.76" y1="274.80" x2="635.53" y2="275.28" stroke="#9900ff" stroke-width="1.7"/>
<line x1="642.75" y1="279.95" x2="643.67" y2="280.57" stroke="#9900ff" stroke-width="1.7"/>
<line x1="650.73" y1="285.47" x2="651.81" y2="286.25" stroke="#9900ff" stroke-width="1.7"/>
<line x1="658.71" y1="291.38" x2="659.95" y2="292.34" stroke="#9900ff" stroke-width="1.7"/>
<line x1="666.69" y1="297.67" x2="668.09" y2="298.82" stroke="#9900ff" stroke-width="1.7"/>
<line x1="674.68" y1="304.35" x2="676.23" y2="305.69" stroke="#9900ff" stroke-width="1.7"/>
<line x1="682.66" y1="311.41" x2="684.37" y2="312.97" stroke="#9900ff" stroke-width="1.7"/>
<line x1="690.65" y1="318.85" x2="692.51" y2="320.63" stroke="#9900ff" stroke-width="1.7"/>
<line x1="698.63" y1="326.67" x2="700.64" y2="328.70" stroke="#9900ff" stroke-width="1.7"/>
<line x1="706.62" y1="334.88" x2="708.78" y2="337.16" stroke="#9900ff" stroke-width="1.7"/>
<line x1="714.62" y1="343.47" x2="716.91" y2="346.01" stroke="#9900ff" stroke-width="1.7"/>
<line x1="722.61" y1="352.45" x2="725.04" y2="355.25" stroke="#9900ff" stroke-width="1.7"/>
<line x1="730.60" y1="361.81" x2="733.17" y2="364.89" stroke="#9900ff" stroke-width="1.7"/>
<line x1="738.60" y1="371.56" x2="741.29" y2="374.93" stroke="#9900ff" stroke-width="1.7"/>
<line x1="746.60" y1="381.69" x2="749.42" y2="385.35" stroke="#9900ff" stroke-width="1.7"/>
<path d="M513.53,243.11 L520.61,239.46 L520.61,246.76 Z" fill="#fff" stroke="#9900ff" stroke-width="1.4"/>
<path d="M521.59,242.68 L528.67,239.03 L528.67,246.33 Z" fill="#fff" stroke="#9900ff" stroke-width="1.4"/>
<path d="M529.65,242.64 L536.73,238.99 L536.73,246.29 Z" fill="#fff" stroke="#9900ff" stroke-width="1.4"/>
<path d="M537.71,242.99 L544.80,239.34 L544.80,246.64 Z" fill="#fff" stroke="#9900ff" stroke-width="1.4"/>
<path d="M545.78,243.72 L552.86,240.07 L552.86,247.37 Z" fill="#fff" stroke="#9900ff" stroke-width="1.4"/>
<path d="M553.84,244.85 L560.92,241.20 L560.92,248.50 Z" fill="#fff" stroke="#9900ff" stroke-width="1.4"/>
<path d="M561.90,246.37 L568.98,242.72 L568.98,250.02 Z" fill="#fff" stroke="#9900ff" stroke-width="1.4"/>
<path d="M569.96,248.28 L577.04,244.63 L577.04,251.93 Z" fill="#fff" stroke="#9900ff" stroke-width="1.4"/>
<path d="M578.02,250.57 L585.10,246.92 L585.10,254.22 Z" fill="#fff" stroke="#9900ff" stroke-width="1.4"/>
<path d="M586.08,253.26 L593.17,249.61 L593.17,256.91 Z" fill="#fff" stroke="#9900ff" stroke-width="1.4"/>
<path d="M594.15,256.33 L601.23,252.68 L601.23,259.98 Z" fill="#fff" stroke="#9900ff" stroke-width="1.4"/>
<path d="M602.21,259.80 L609.29,256.15 L609.29,263.45 Z" fill="#fff" stroke="#9900ff" stroke-width="1.4"/>
<path d="M610.27,263.65 L617.35,260.00 L617.35,267.30 Z" fill="#fff" stroke="#9900ff" stroke-width="1.4"/>
<path d="M618.33,267.89 L625.41,264.24 L625.41,271.54 Z" fill="#fff" stroke="#9900ff" stroke-width="1.4"/>
<path d="M626.39,272.53 L633.47,268.88 L633.47,276.18 Z" fill="#fff" stroke="#9900ff" stroke-width="1.4"/>
<path d="M634.46,277.55 L641.54,273.90 L641.54,281.20 Z" fill="#fff" stroke="#9900ff" stroke-width="1.4"/>
<path d="M642.52,282.96 L649.60,279.31 L649.60,286.61 Z" fill="#fff" stroke="#9900ff" stroke-width="1.4"/>
<path d="M650.58,288.76 L657.66,285.11 L657.66,292.41 Z" fill="#fff" stroke="#9900ff" stroke-width="1.4"/>
<path d="M658.64,294.96 L665.72,291.31 L665.72,298.61 Z" fill="#fff" stroke="#9900ff" stroke-width="1.4"/>
<path d="M666.70,301.54 L673.78,297.89 L673.78,305.19 Z" fill="#fff" stroke="#9900ff" stroke-width="1.4"/>
<path d="M674.76,308.51 L681.84,304.86 L681.84,312.16 Z" fill="#fff" stroke="#9900ff" stroke-width="1.4"/>
<path d="M682.83,315.87 L689.91,312.22 L689.91,319.52 Z" fill="#fff" stroke="#9900ff" stroke-width="1.4"/>
<path d="M690.89,323.61 L697.97,319.96 L697.97,327.26 Z" fill="#fff" stroke="#9900ff" stroke-width="1.4"/>
<path d="M698.95,331.75 L706.03,328.10 L706.03,335.40 Z" fill="#fff" stroke="#9900ff" stroke-width="1.4"/>
<path d="M707.01,340.28 L714.09,336.63 L714.09,343.93 Z" fill="#fff" stroke="#9900ff" stroke-width="1.4"/>
<path d="M715.07,349.20 L722.15,345.55 L722.15,352.85 Z" fill="#fff" stroke="#9900ff" stroke-width="1.4"/>
<path d="M723.13,358.51 L730.22,354.86 L730.22,362.16 Z" fill="#fff" stroke="#9900ff" stroke-width="1.4"/>
<path d="M731.20,368.20 L738.28,364.55 L738.28,371.85 Z" fill="#fff" stroke="#9900ff" stroke-width="1.4"/>
<path d="M739.26,378.29 L746.34,374.64 L746.34,381.94 Z" fill="#fff" stroke="#9900ff" stroke-width="1.4"/>
<path d="M747.32,388.76 L754.40,385.11 L754.40,392.41 Z" fill="#fff" stroke="#9900ff" stroke-width="1.4"/>
<path d="M136.45,378.00 Q206.53,351.40 276.61,315.21" fill="none" stroke="#12b050" stroke-width="2.3"/>
<path d="M292.58,308.86 Q362.39,284.90 432.20,260.13" fill="none" stroke="#12b050" stroke-width="2.3"/>
<path d="M447.97,261.23 Q518.25,300.78 588.53,333.53" fill="none" stroke="#12b050" stroke-width="2.3"/>
<path d="M603.62,341.77 Q674.11,387.21 744.60,423.45" fill="none" stroke="#12b050" stroke-width="2.3"/>
<path d="M137.93,381.51 L123.93,373.81 L123.93,389.21 Z" fill="#12b050"/>
<path d="M293.79,311.70 L279.79,304.00 L279.79,319.40 Z" fill="#12b050"/>
<path d="M449.65,257.30 L435.65,249.60 L435.65,265.00 Z" fill="#12b050"/>
<path d="M605.51,337.46 L591.51,329.76 L591.51,345.16 Z" fill="#12b050"/>
<path d="M761.37,427.76 L747.37,420.06 L747.37,435.46 Z" fill="#12b050"/>
<line x1="214.59" y1="328.17" x2="276.40" y2="297.42" stroke="#000" stroke-width="2.1"/>
<line x1="291.38" y1="287.66" x2="355.47" y2="234.42" stroke="#000" stroke-width="2.1"/>
<line x1="370.33" y1="224.42" x2="432.38" y2="191.28" stroke="#000" stroke-width="2.1"/>
<line x1="449.02" y1="184.72" x2="509.55" y2="168.55" stroke="#000" stroke-width="2.1"/>
<line x1="526.47" y1="169.90" x2="587.96" y2="197.35" stroke="#000" stroke-width="2.1"/>
<line x1="602.56" y1="207.37" x2="667.73" y2="272.20" stroke="#000" stroke-width="2.1"/>
<line x1="681.90" y1="283.05" x2="744.25" y2="319.08" stroke="#000" stroke-width="2.1"/>
<rect x="200.63" y="326.28" width="11.8" height="11.8" fill="#000"/>
<rect x="278.56" y="287.52" width="11.8" height="11.8" fill="#000"/>
<rect x="356.49" y="222.76" width="11.8" height="11.8" fill="#000"/>
<rect x="434.42" y="181.14" width="11.8" height="11.8" fill="#000"/>
<rect x="512.35" y="160.33" width="11.8" height="11.8" fill="#000"/>
<rect x="590.28" y="195.12" width="11.8" height="11.8" fill="#000"/>
<rect x="668.21" y="272.65" width="11.8" height="11.8" fill="#000"/>
<rect x="746.14" y="317.69" width="11.8" height="11.8" fill="#000"/>
<rect x="76.5" y="22.5" width="728.0" height="440.5" fill="none" stroke="#000" stroke-width="2"/>
<text transform="translate(67.7,470.80) scale(0.905,1)" font-size="27.0" text-anchor="end">40</text>
<line x1="76.5" y1="407.94" x2="84.5" y2="407.94" stroke="#000" stroke-width="1.8"/>
<text transform="translate(67.7,415.74) scale(0.905,1)" font-size="27.0" text-anchor="end">45</text>
<line x1="76.5" y1="352.88" x2="84.5" y2="352.88" stroke="#000" stroke-width="1.8"/>
<text transform="translate(67.7,360.68) scale(0.905,1)" font-size="27.0" text-anchor="end">50</text>
<line x1="76.5" y1="297.82" x2="84.5" y2="297.82" stroke="#000" stroke-width="1.8"/>
<text transform="translate(67.7,305.62) scale(0.905,1)" font-size="27.0" text-anchor="end">55</text>
<line x1="76.5" y1="242.76" x2="84.5" y2="242.76" stroke="#000" stroke-width="1.8"/>
<text transform="translate(67.7,250.56) scale(0.905,1)" font-size="27.0" text-anchor="end">60</text>
<line x1="76.5" y1="187.70" x2="84.5" y2="187.70" stroke="#000" stroke-width="1.8"/>
<text transform="translate(67.7,195.50) scale(0.905,1)" font-size="27.0" text-anchor="end">65</text>
<line x1="76.5" y1="132.64" x2="84.5" y2="132.64" stroke="#000" stroke-width="1.8"/>
<text transform="translate(67.7,140.44) scale(0.905,1)" font-size="27.0" text-anchor="end">70</text>
<line x1="76.5" y1="77.58" x2="84.5" y2="77.58" stroke="#000" stroke-width="1.8"/>
<text transform="translate(67.7,85.38) scale(0.905,1)" font-size="27.0" text-anchor="end">75</text>
<text transform="translate(67.7,30.32) scale(0.905,1)" font-size="27.0" text-anchor="end">80</text>
<line x1="76.5" y1="435.47" x2="81.3" y2="435.47" stroke="#000" stroke-width="1.8"/>
<line x1="76.5" y1="380.41" x2="81.3" y2="380.41" stroke="#000" stroke-width="1.8"/>
<line x1="76.5" y1="325.35" x2="81.3" y2="325.35" stroke="#000" stroke-width="1.8"/>
<line x1="76.5" y1="270.29" x2="81.3" y2="270.29" stroke="#000" stroke-width="1.8"/>
<line x1="76.5" y1="215.23" x2="81.3" y2="215.23" stroke="#000" stroke-width="1.8"/>
<line x1="76.5" y1="160.17" x2="81.3" y2="160.17" stroke="#000" stroke-width="1.8"/>
<line x1="76.5" y1="105.11" x2="81.3" y2="105.11" stroke="#000" stroke-width="1.8"/>
<line x1="76.5" y1="50.05" x2="81.3" y2="50.05" stroke="#000" stroke-width="1.8"/>
<line x1="128.60" y1="463.0" x2="128.60" y2="455.4" stroke="#000" stroke-width="1.8"/>
<text transform="translate(128.60,492.2) scale(0.905,1)" font-size="27.0" text-anchor="middle">30.0</text>
<line x1="206.53" y1="463.0" x2="206.53" y2="455.4" stroke="#000" stroke-width="1.8"/>
<text transform="translate(206.53,492.2) scale(0.905,1)" font-size="27.0" text-anchor="middle">37.5</text>
<line x1="284.46" y1="463.0" x2="284.46" y2="455.4" stroke="#000" stroke-width="1.8"/>
<text transform="translate(284.46,492.2) scale(0.905,1)" font-size="27.0" text-anchor="middle">45.0</text>
<line x1="362.39" y1="463.0" x2="362.39" y2="455.4" stroke="#000" stroke-width="1.8"/>
<text transform="translate(362.39,492.2) scale(0.905,1)" font-size="27.0" text-anchor="middle">52.5</text>
<line x1="440.32" y1="463.0" x2="440.32" y2="455.4" stroke="#000" stroke-width="1.8"/>
<text transform="translate(440.32,492.2) scale(0.905,1)" font-size="27.0" text-anchor="middle">60.0</text>
<line x1="518.25" y1="463.0" x2="518.25" y2="455.4" stroke="#000" stroke-width="1.8"/>
<text transform="translate(518.25,492.2) scale(0.905,1)" font-size="27.0" text-anchor="middle">67.5</text>
<line x1="596.18" y1="463.0" x2="596.18" y2="455.4" stroke="#000" stroke-width="1.8"/>
<text transform="translate(596.18,492.2) scale(0.905,1)" font-size="27.0" text-anchor="middle">75.0</text>
<line x1="674.11" y1="463.0" x2="674.11" y2="455.4" stroke="#000" stroke-width="1.8"/>
<text transform="translate(674.11,492.2) scale(0.905,1)" font-size="27.0" text-anchor="middle">82.5</text>
<line x1="752.04" y1="463.0" x2="752.04" y2="455.4" stroke="#000" stroke-width="1.8"/>
<text transform="translate(752.04,492.2) scale(0.905,1)" font-size="27.0" text-anchor="middle">90.0</text>
<text x="313.6" y="532.7" font-size="25">Rotational speed n<tspan class="i" font-size="18" dy="6.5">R</tspan><tspan dy="-6.5">(rpm)</tspan></text>
<text transform="translate(32,325.6) rotate(-90)" font-size="25">Loading rate(%)</text>
<line x1="83" y1="35.5" x2="103.0" y2="35.5" stroke="#8f97d2" stroke-width="1.9"/>
<line x1="111.6" y1="35.5" x2="131.5" y2="35.5" stroke="#8f97d2" stroke-width="1.9"/>
<path d="M107.30,30.71 L111.00,37.89 L103.60,37.89 Z" fill="#fff" stroke="#8f97d2" stroke-width="1.5"/>
<text x="136.7" y="42.7" font-size="21.15">Fit curve of n<tspan class="i" font-size="15" dy="6">F</tspan><tspan dy="-6">=30rpm</tspan></text>
<line x1="83" y1="66.2" x2="103.0" y2="66.2" stroke="#a08612" stroke-width="1.9"/>
<line x1="111.6" y1="66.2" x2="131.5" y2="66.2" stroke="#a08612" stroke-width="1.9"/>
<path d="M107.30,70.92 L110.95,63.84 L103.65,63.84 Z" fill="#fff" stroke="#a08612" stroke-width="1.5"/>
<text x="136.7" y="73.4" font-size="21.15">Fit curve of n<tspan class="i" font-size="15" dy="6">F</tspan><tspan dy="-6">=45rpm</tspan></text>
<line x1="83" y1="95.6" x2="103.0" y2="95.6" stroke="#9900ff" stroke-width="1.9"/>
<line x1="111.6" y1="95.6" x2="131.5" y2="95.6" stroke="#9900ff" stroke-width="1.9"/>
<path d="M103.08,95.60 L110.16,91.95 L110.16,99.25 Z" fill="#fff" stroke="#9900ff" stroke-width="1.4"/>
<text x="136.7" y="102.8" font-size="21.15">Fit curve of n<tspan class="i" font-size="15" dy="6">F</tspan><tspan dy="-6">=60rpm</tspan></text>
<line x1="83" y1="127.5" x2="103.0" y2="127.5" stroke="#8b4513" stroke-width="1.9"/>
<line x1="111.6" y1="127.5" x2="131.5" y2="127.5" stroke="#8b4513" stroke-width="1.9"/>
<polygon points="107.30,123.60 108.26,126.17 111.01,126.29 108.86,128.01 109.59,130.66 107.30,129.14 105.01,130.66 105.74,128.01 103.59,126.29 106.34,126.17" fill="#fff" stroke="#8b4513" stroke-width="1.4"/>
<text x="136.7" y="134.1" font-size="21.15">Fit curve of single drum</text>
<text x="361.6" y="44.7" font-size="21.43" fill="#616bb4"><tspan class="i">y</tspan>=–0.020<tspan class="i">x</tspan><tspan font-size="14" dy="4.6">1</tspan><tspan font-size="14" dy="-12.8">2</tspan><tspan dy="8.2">+2.610</tspan><tspan class="i">x</tspan><tspan font-size="14" dy="4.6">1</tspan><tspan dy="-4.6">-19.092 R</tspan><tspan font-size="14" dy="-8">2</tspan><tspan dy="8">=0.932</tspan></text>
<text x="361.6" y="71.9" font-size="21.43" fill="#907a08"><tspan class="i">y</tspan>=–0.011<tspan class="i">x</tspan><tspan font-size="14" dy="4.6">2</tspan><tspan font-size="14" dy="-12.8">2</tspan><tspan dy="8.2">+1.334</tspan><tspan class="i">x</tspan><tspan font-size="14" dy="4.6">2</tspan><tspan dy="-4.6">+17.282 R</tspan><tspan font-size="14" dy="-8">2</tspan><tspan dy="8">=0.945</tspan></text>
<text x="361.6" y="100.4" font-size="21.43" fill="#9900ff"><tspan class="i">y</tspan>=–0.026<tspan class="i">x</tspan><tspan font-size="14" dy="4.6"><tspan class="i">3</tspan></tspan><tspan font-size="14" dy="-12.8">2</tspan><tspan dy="8.2">+3.567</tspan><tspan class="i">x</tspan><tspan font-size="14" dy="4.6"><tspan class="i">3</tspan></tspan><tspan dy="-4.6">+65.483 R</tspan><tspan font-size="14" dy="-8">2</tspan><tspan dy="8">=0.998</tspan></text>
<text x="361.6" y="133.9" font-size="21.43" fill="#8b4513"><tspan class="i">y</tspan>=–0.01<tspan class="i">2</tspan><tspan class="i">x</tspan><tspan font-size="14" dy="4.6">2</tspan><tspan font-size="14" dy="-12.8">2</tspan><tspan dy="8.2">+1.318</tspan><tspan class="i">x</tspan><tspan font-size="14" dy="4.6">2</tspan><tspan dy="-4.6">+17.000 R</tspan><tspan font-size="14" dy="-8">2</tspan><tspan dy="8">=0.952</tspan></text>
<rect x="83.8" y="147.5" width="168.3" height="113.3" fill="#fff" stroke="#000" stroke-width="1.5"/>
<line x1="88.7" y1="157.8" x2="104.6" y2="157.8" stroke="#000" stroke-width="1.9"/>
<line x1="122.1" y1="157.8" x2="137.4" y2="157.8" stroke="#000" stroke-width="1.9"/>
<rect x="107.40" y="151.90" width="11.8" height="11.8" fill="#000"/>
<text x="142.3" y="164.60000000000002" font-size="21.15">n<tspan class="i" font-size="15" dy="6">F</tspan><tspan dy="-6">=30rpm</tspan></text>
<line x1="88.7" y1="187.4" x2="107" y2="187.4" stroke="#ff0000" stroke-width="1.5"/>
<line x1="120" y1="187.4" x2="137.4" y2="187.4" stroke="#ff0000" stroke-width="1.5"/>
<circle cx="113.50" cy="187.40" r="6.6" fill="#ff0000"/>
<text x="142.3" y="194.20000000000002" font-size="21.15">n<tspan class="i" font-size="15" dy="6">F</tspan><tspan dy="-6">=45rpm</tspan></text>
<line x1="88.7" y1="217.4" x2="106" y2="217.4" stroke="#0000ff" stroke-width="1.5"/>
<line x1="121" y1="217.4" x2="137.4" y2="217.4" stroke="#0000ff" stroke-width="1.5"/>
<path d="M113.60,209.20 L121.60,217.40 L113.60,225.60 L105.60,217.40 Z" fill="#0000ff"/>
<text x="142.3" y="224.20000000000002" font-size="21.15">n<tspan class="i" font-size="15" dy="6">F</tspan><tspan dy="-8.3">−</tspan><tspan dy="2.3">60rpm</tspan></text>
<line x1="88.7" y1="248.0" x2="104.0" y2="248.0" stroke="#12b050" stroke-width="1.5"/>
<line x1="121.5" y1="248.0" x2="137.4" y2="248.0" stroke="#12b050" stroke-width="1.5"/>
<path d="M121.93,248.00 L108.53,240.20 L108.53,255.80 Z" fill="#12b050"/>
<text x="142.3" y="254.8" font-size="21.15">Single drum</text>
</svg></body></html>
